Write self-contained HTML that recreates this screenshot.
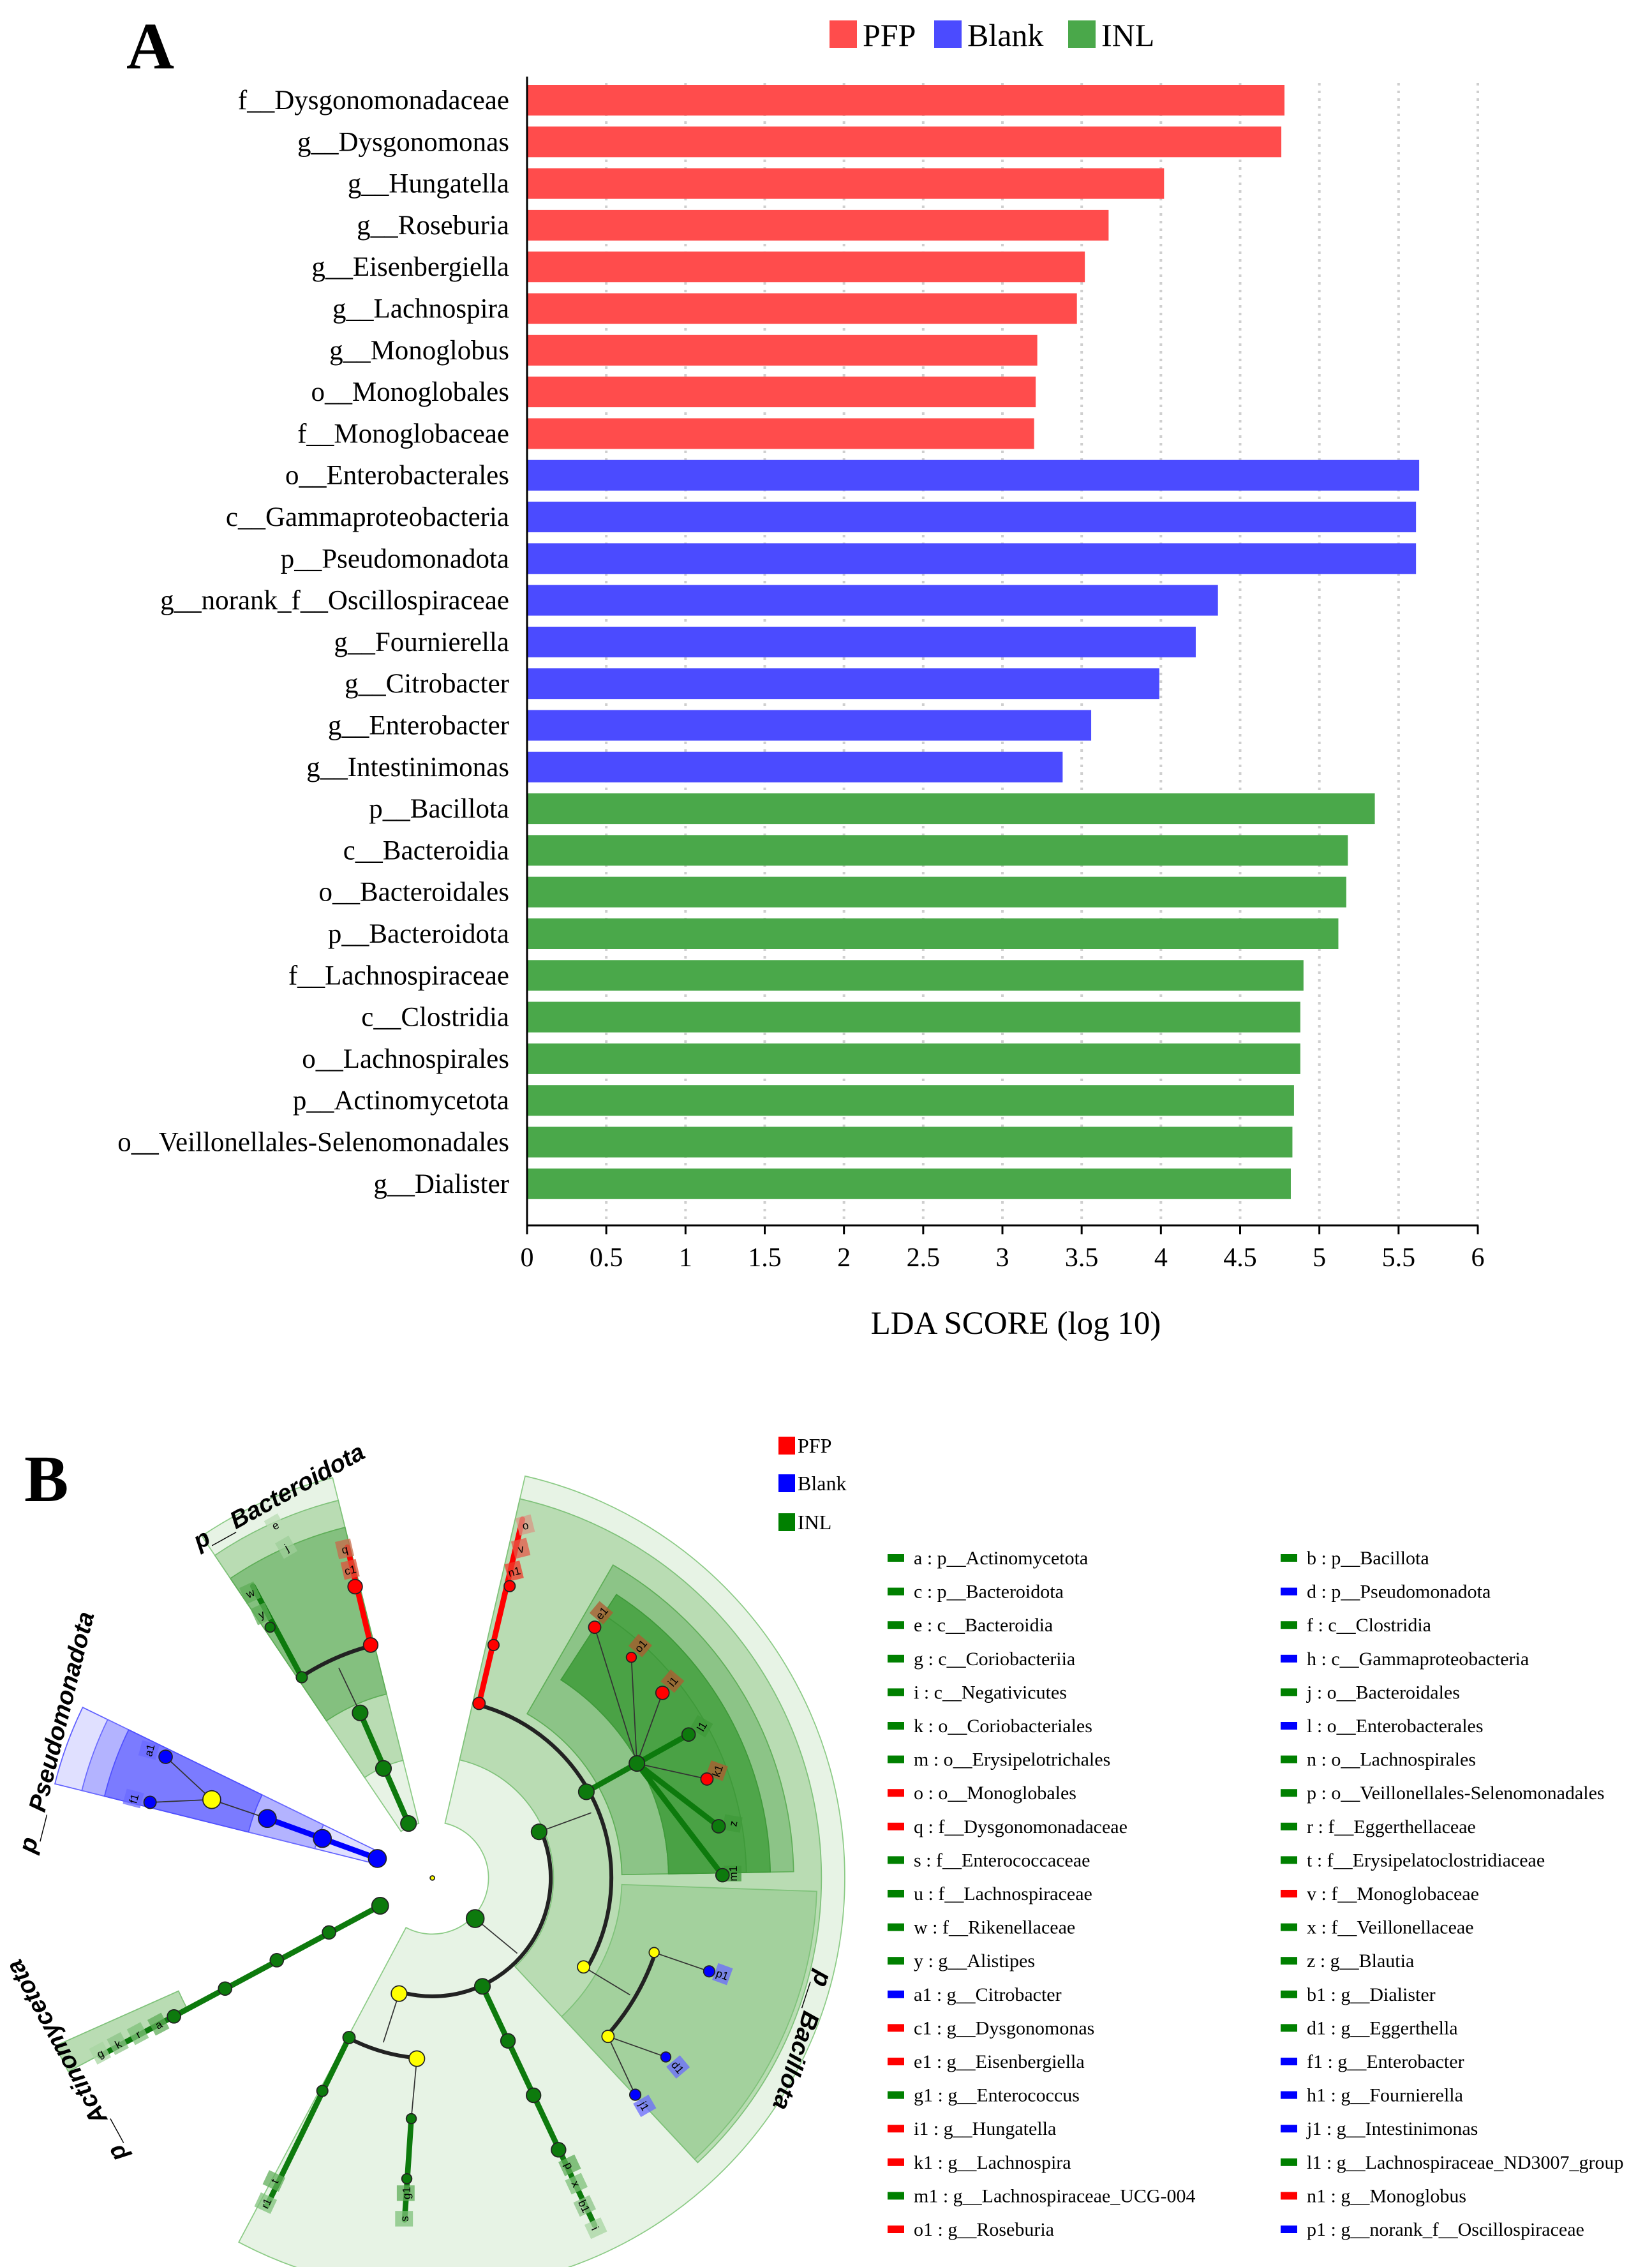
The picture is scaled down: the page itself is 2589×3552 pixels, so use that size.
<!DOCTYPE html>
<html><head><meta charset="utf-8"><style>
html,body{margin:0;padding:0;background:#fff;}
svg{display:block;}
</style></head><body>
<svg id="root" width="2589" height="3552" viewBox="0 0 2589 3552" font-family="Liberation Serif, serif">
<g id="panelA"></g>
<g id="panelB"></g>
</svg>
<script>
const categories=["f__Dysgonomonadaceae","g__Dysgonomonas","g__Hungatella","g__Roseburia","g__Eisenbergiella","g__Lachnospira","g__Monoglobus","o__Monoglobales","f__Monoglobaceae","o__Enterobacterales","c__Gammaproteobacteria","p__Pseudomonadota","g__norank_f__Oscillospiraceae","g__Fournierella","g__Citrobacter","g__Enterobacter","g__Intestinimonas","p__Bacillota","c__Bacteroidia","o__Bacteroidales","p__Bacteroidota","f__Lachnospiraceae","c__Clostridia","o__Lachnospirales","p__Actinomycetota","o__Veillonellales-Selenomonadales","g__Dialister"];
const ldaValues=[4.78,4.76,4.02,3.67,3.52,3.47,3.22,3.21,3.20,5.63,5.61,5.61,4.36,4.22,3.99,3.56,3.38,5.35,5.18,5.17,5.12,4.90,4.88,4.88,4.84,4.83,4.82];
const groups=["PFP","PFP","PFP","PFP","PFP","PFP","PFP","PFP","PFP","Blank","Blank","Blank","Blank","Blank","Blank","Blank","Blank","INL","INL","INL","INL","INL","INL","INL","INL","INL","INL"];
const ticks=[0,0.5,1,1.5,2,2.5,3,3.5,4,4.5,5,5.5,6];
const tickLabels=["0","0.5","1","1.5","2","2.5","3","3.5","4","4.5","5","5.5","6"];
const legendGroups=["PFP","Blank","INL"];

const NS="http://www.w3.org/2000/svg";
const colors={PFP:"#ff4c4c",Blank:"#4b4bff",INL:"#4aa84a"};
function mk(tag,attrs,parent){const e=document.createElementNS(NS,tag);for(const k in attrs)e.setAttribute(k,attrs[k]);parent.appendChild(e);return e;}
const A=document.getElementById('panelA');
const x0=826,x1=2316,yTop=130,axisY=1920,rowStart=157,rowStep=65.3,barH=48;
const xScale=v=>x0+(v-ticks[0])/(ticks[ticks.length-1]-ticks[0])*(x1-x0);
const yScale=i=>rowStart+i*rowStep;

let t=mk('text',{x:198,y:107,'font-size':104,'font-weight':'bold'},A);t.textContent='A';



ticks.forEach((v,i)=>{ if(i===0) return;
 const l=mk('line',{x1:xScale(v),x2:xScale(v),y1:yTop,y2:axisY-8,stroke:'#cfcfcf','stroke-width':4,'stroke-dasharray':'4 8'},A);
 
 
});
categories.forEach((c,i)=>{
 const y=yScale(i);
 const r=mk('rect',{x:x0,y:y-barH/2,width:xScale(ldaValues[i])-x0,height:barH,fill:colors[groups[i]]},A);
 
 
 const tx=mk('text',{x:798,y:y+14,'font-size':43,'text-anchor':'end'},A);tx.textContent=c;
 
 
});
let ax=mk('line',{x1:x0,x2:x0,y1:yTop-10,y2:axisY,stroke:'#000','stroke-width':3},A);


ax=mk('line',{x1:x0-1,x2:x1+1,y1:axisY,y2:axisY,stroke:'#000','stroke-width':3},A);


ticks.forEach((v,i)=>{
 const l=mk('line',{x1:xScale(v),x2:xScale(v),y1:axisY,y2:axisY+14,stroke:'#000','stroke-width':3},A);
 
 
 const tx=mk('text',{x:xScale(v),y:axisY+64,'font-size':42,'text-anchor':'middle'},A);tx.textContent=tickLabels[i];
 
 
});
t=mk('text',{x:1592,y:2090,'font-size':51,'text-anchor':'middle'},A);t.textContent='LDA SCORE (log 10)';


const legX=[1300,1464,1674];
legendGroups.forEach((g,i)=>{
 const r=mk('rect',{x:legX[i],y:32,width:43,height:43,fill:colors[g]},A);
 
 
 const tx=mk('text',{x:legX[i]+52,y:72,'font-size':50},A);tx.textContent=g;
 
 
});

// ---------- Panel B ----------
const B=document.getElementById('panelB');
t=mk('text',{x:38,y:2352,'font-size':104,'font-weight':'bold'},B);t.textContent='B';


const G=mk('g',{transform:'translate(0,2250) scale(0.871)'},B);


const CX=778,CY=795;
function pt(r,a){const t=a*Math.PI/180;return [CX+r*Math.cos(t),CY+r*Math.sin(t)];}
function sector(r0,r1,a0,a1,fill,stroke,name){
 const p1=pt(r1,a0),p2=pt(r1,a1),p3=pt(r0,a1),p4=pt(r0,a0);const lg=(a1-a0)>180?1:0;
 const d=`M${p1}A${r1},${r1} 0 ${lg} 1 ${p2}L${p3}A${r0},${r0} 0 ${lg} 0 ${p4}Z`;
 const e=mk('path',{d:d,fill:fill,stroke:stroke||'#6fbf69','stroke-width':2},G);
 
 
}
sector(101,742,-77,118,'#e7f3e5','#8ccb86','bacillota-sector');
sector(218,700,-77,47,'#b9dcb3','#7fc27a','bacillota-class-ring');
sector(341,692,2,47,'#a3d19d','#7fc27a','negativicutes-ring');
sector(341,650,-60,-1,'#8cc487','#5fae58','clostridia-ring');
sector(425,608,-57,-1,'#4fa64a','#3f9a3a','lachnospirales-ring');
sector(425,565,-57,-1,'#4aa245','#3f9a3a','lachnospiraceae-ring');
sector(101,742,-124,-104,'#e7f3e5','#8ccb86','bacteroidota-sector');
sector(218,700,-124,-104,'#b9dcb3','#7fc27a','bacteroidia-ring');
sector(341,650,-124,-104,'#84c07f','#5fae58','bacteroidales-ring');
sector(101,700,-166,-154,'#e0e0ff','#6060ff','pseudomonadota-sector');
sector(218,650,-166,-154,'#b3b3ff','#6a6aff','gamma-ring');
sector(341,608,-166,-154,'#7b7bff','#5050ff','enterobacterales-ring');
sector(500,742,152,156,'#b9dcb3','#7fc27a','actinomycetota-labels');

function line(x1,y1,x2,y2,c,w,name){const e=mk('line',{x1:x1,y1:y1,x2:x2,y2:y2,stroke:c,'stroke-width':w,'stroke-linecap':'round'},G);
 }
function arcB(r,a0,a1,name){const p1=pt(r,a0),p2=pt(r,a1);const e=mk('path',{d:`M${p1}A${r},${r} 0 0 1 ${p2}`,fill:'none',stroke:'#222','stroke-width':7},G);
 }
function node(x,y,r,c,name){const e=mk('circle',{cx:x,cy:y,r:r,fill:c,stroke:'#222','stroke-width':2},G);
 }
function lbl(x,y,txt,c,rot){const g=mk('g',{transform:`translate(${x},${y}) rotate(${rot||0})`},G);
 const r=mk('rect',{x:-14,y:-16,width:28,height:32,fill:c,opacity:0.75},g);
 
 const tx=mk('text',{x:0,y:8,'font-size':20,'text-anchor':'middle','font-family':'Liberation Sans, sans-serif'},g);tx.textContent=txt;
 }
const GR='#0d7a0d',RD='#ff0000',BL='#0000ff',YL='#ffff00';
line(735,697,648,498,GR,10);line(648,498,610,418,'#333',2);
arcB(432,-123,-105,'arc-bacteroidota');
line(543,434,455,270,GR,10);line(667,376,625,200,RD,10);
lbl(450,282,'w','#5fae58',-25);lbl(470,320,'y','#5fae58',-25);lbl(620,203,'q','#c86a4a',-13);lbl(630,240,'c1','#e0503a',-13);
lbl(495,160,'e','#b9dcb3',-30);lbl(515,200,'j','#9fcf99',-30);
node(735,697,14,GR);node(690,598,14,GR);node(648,498,14,GR);node(543,434,10,GR);node(486,344,9,GR);node(667,376,13,RD);node(639,271,13,RD);
line(679,760,481,688,BL,10);line(481,688,381,654,'#333',2);line(381,654,298,577,'#333',2);line(381,654,270,659,'#333',2);
lbl(268,565,'a1','#6a6aff',-75);lbl(240,652,'f1','#6a6aff',-75);
node(679,760,16,BL);node(580,724,16,BL);node(481,688,16,BL);node(381,654,16,YL);node(298,577,12,BL);node(270,659,11,BL);
line(684,845,180,1115,GR,10);
lbl(180,1110,'g','#a8d5a2',-28);lbl(212,1093,'k','#8cc487',-28);lbl(248,1075,'r','#7fc27a',-28);lbl(285,1058,'a','#5fae58',-28);
[[684,845,15],[592,893,12],[498,943,12],[405,994,12],[313,1044,12]].forEach(n=>node(n[0],n[1],n[2],GR));
arcB(322,-75,30,'arc-bacillota-main');arcB(213,-23,106,'arc-bacillota-inner');arcB(325,95,117,'arc-erysipelotrichia');arcB(423,18,42,'arc-oscillospirales');
line(970,712,1063,678,'#333',2);line(855,868,930,930,'#333',2);line(718,1003,690,1090,'#333',2);line(1050,955,1133,1005,'#333',2);
line(1177,929,1276,963,'#333',2);line(1094,1080,1198,1117,'#333',2);line(1094,1080,1143,1185,'#333',2);
line(868,990,1070,1420,GR,10);line(628,1082,480,1385,GR,10);line(750,1120,740,1228,'#333',2);line(740,1228,728,1410,GR,10);
line(862,481,940,150,RD,10);
line(1055,640,1146,589,GR,10);line(1146,589,1239,537,GR,10);line(1146,589,1293,702,GR,10);line(1146,589,1300,790,GR,10);
[[1070,344],[1136,398],[1192,462],[1272,617]].forEach(p=>line(1146,589,p[0],p[1],'#333',2));
lbl(945,160,'o','#d89a85',-14);lbl(937,202,'v','#e55a4a',-14);lbl(925,243,'n1','#f03a2a',-14);
lbl(1082,318,'e1','#b05a30',-50);lbl(1152,377,'o1','#b05a30',-50);lbl(1210,441,'i1','#b05a30',-50);lbl(1290,602,'k1','#b05a30',-70);
lbl(1262,522,'l1','#3f9a3a',-60);lbl(1318,697,'z','#3f9a3a',-80);lbl(1318,787,'m1','#3f9a3a',-90);
lbl(1300,968,'p1','#6a6aff',20);lbl(1220,1135,'d1','#6a6aff',50);lbl(1160,1205,'j1','#6a6aff',60);
lbl(1025,1312,'p','#5fae58',65);lbl(1037,1345,'x','#7fc27a',65);lbl(1052,1385,'b1','#8cc487',65);lbl(1072,1425,'i','#a8d5a2',65);
lbl(493,1340,'t','#5fae58',-65);lbl(478,1380,'r1','#7fc27a',-65);lbl(730,1362,'g1','#5fae58',-90);lbl(727,1408,'s','#7fc27a',-90);
node(862,481,11,RD);node(888,376,10,RD);node(917,270,10,RD);
node(1055,640,14,GR);node(1146,589,14,GR);node(1239,537,12,GR);node(1070,344,11,RD);node(1136,398,9,RD);node(1192,462,12,RD);node(1272,617,11,RD);node(1293,702,12,GR);node(1300,790,12,GR);
node(970,712,14,GR);node(855,868,16,GR);node(1050,955,11,YL);node(1177,929,9,YL);node(1094,1080,11,YL);
node(1276,963,10,BL);node(1198,1117,9,BL);node(1143,1185,10,BL);
node(868,990,14,GR);node(914,1088,13,GR);node(960,1186,13,GR);node(1005,1284,13,GR);
node(718,1003,14,YL);node(628,1082,11,GR);node(580,1178,10,GR);node(750,1120,14,YL);node(740,1228,9,GR);node(732,1336,9,GR);
node(778,795,4,YL,'root-node');
function plabel(x,y,rot,txt){const tx=mk('text',{transform:`translate(${x},${y}) rotate(${rot})`,'font-size':44,'font-weight':'bold','font-style':'italic','font-family':'Liberation Sans, sans-serif'},G);tx.textContent=txt;
 }
plabel(358,205,-29,'p__Bacteroidota');plabel(62,752,-76,'p__Pseudomonadota');plabel(230,1295,-118.6,'p__Actinomycetota');plabel(1470,960,108,'p__Bacillota');

const legB=[['PFP','#ff0000',2251],['Blank','#0000ff',2310],['INL','#008000',2371]];
legB.forEach(l=>{const r=mk('rect',{x:1220,y:l[2],width:26,height:28,fill:l[1]},B);
 
 const tx=mk('text',{x:1250,y:l[2]+25,'font-size':32},B);tx.textContent=l[0];
 });
const taxa1=[["a : p__Actinomycetota","g"],["c : p__Bacteroidota","g"],["e : c__Bacteroidia","g"],["g : c__Coriobacteriia","g"],["i : c__Negativicutes","g"],["k : o__Coriobacteriales","g"],["m : o__Erysipelotrichales","g"],["o : o__Monoglobales","r"],["q : f__Dysgonomonadaceae","r"],["s : f__Enterococcaceae","g"],["u : f__Lachnospiraceae","g"],["w : f__Rikenellaceae","g"],["y : g__Alistipes","g"],["a1 : g__Citrobacter","b"],["c1 : g__Dysgonomonas","r"],["e1 : g__Eisenbergiella","r"],["g1 : g__Enterococcus","g"],["i1 : g__Hungatella","r"],["k1 : g__Lachnospira","r"],["m1 : g__Lachnospiraceae_UCG-004","g"],["o1 : g__Roseburia","r"]];
const taxa2=[["b : p__Bacillota","g"],["d : p__Pseudomonadota","b"],["f : c__Clostridia","g"],["h : c__Gammaproteobacteria","b"],["j : o__Bacteroidales","g"],["l : o__Enterobacterales","b"],["n : o__Lachnospirales","g"],["p : o__Veillonellales-Selenomonadales","g"],["r : f__Eggerthellaceae","g"],["t : f__Erysipelatoclostridiaceae","g"],["v : f__Monoglobaceae","r"],["x : f__Veillonellaceae","g"],["z : g__Blautia","g"],["b1 : g__Dialister","g"],["d1 : g__Eggerthella","g"],["f1 : g__Enterobacter","b"],["h1 : g__Fournierella","b"],["j1 : g__Intestinimonas","b"],["l1 : g__Lachnospiraceae_ND3007_group","g"],["n1 : g__Monoglobus","r"],["p1 : g__norank_f__Oscillospiraceae","b"]];
const mc={g:'#008000',r:'#ff0000',b:'#0000ff'};
function col(list,mx,tx0){list.forEach((it,i)=>{const y=2441+i*52.6;
 const r=mk('rect',{x:mx,y:y-6,width:26,height:12,fill:mc[it[1]]},B);
 
 const t=mk('text',{x:tx0,y:y+10,'font-size':30},B);t.textContent=it[0];
 });}
col(taxa1,1391,1432);col(taxa2,2007,2048);
</script>
</body></html>
